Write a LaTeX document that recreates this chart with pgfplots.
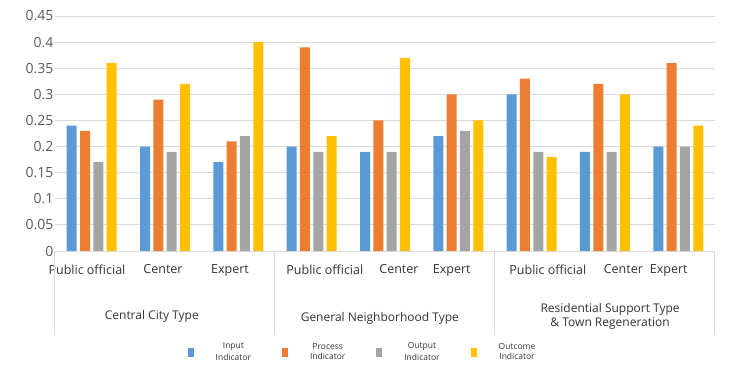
\documentclass[border=0pt]{standalone}
\usepackage{pgfplots}
\pgfplotsset{compat=1.18}
\usepackage{fontspec}
\setmainfont{Open Sans}
\definecolor{cblue}{HTML}{5B9BD5}
\definecolor{corange}{HTML}{ED7D31}
\definecolor{cgray}{HTML}{A5A5A5}
\definecolor{cyellow}{HTML}{FFC000}
\definecolor{gridgray}{HTML}{D9D9D9}
\definecolor{labgray}{HTML}{595959}
\definecolor{txt}{HTML}{333333}
\begin{document}
\begin{tikzpicture}[x=1pt,y=1pt]
\begin{axis}[at={(55pt,127pt)}, anchor=south west, scale only axis,
  width=660pt, height=235pt,
  xmin=-0.5, xmax=8.5, ymin=0, ymax=0.45,
  ybar=3.33pt, bar width=10pt,
  clip=false,
  axis line style={draw=none},
  major tick length=0pt,
  ytick={0,0.05,0.1,0.15,0.2,0.25,0.3,0.35,0.4,0.45},
  yticklabels={0,0.05,0.1,0.15,0.2,0.25,0.3,0.35,0.4,0.45},
  ymajorgrids, grid style={draw=gridgray, line width=1pt},
  y tick label style={font=\fontsize{14}{14}\selectfont, text=labgray, xshift=2pt},
  xtick={-0.064,0.973,1.886,3.18,4.19,4.91,6.22,7.25,7.87},
  xticklabels={Public official,Center,Expert,Public official,Center,Expert,Public official,Center,Expert},
  x tick label style={font=\fontsize{12.5}{13}\selectfont, text=txt, yshift=-10pt},
  legend style={at={(0.466,-0.43)}, anchor=center, draw=none, fill=none,
    legend columns=4, font=\fontsize{8.5}{9}\selectfont, text=txt,
    /tikz/every odd column/.style={column sep=20pt},
    /tikz/every even column/.style={column sep=29pt}},
  legend image code/.code={\fill[#1] (0pt,-4.5pt) rectangle (6pt,4.5pt);},
]
\addplot[fill=cblue, draw=none] coordinates {(0,0.24) (1,0.20) (2,0.17) (3,0.20) (4,0.19) (5,0.22) (6,0.30) (7,0.19) (8,0.20)};
\addlegendentry{\shortstack{Input\\Indicator}}
\addplot[fill=corange, draw=none] coordinates {(0,0.23) (1,0.29) (2,0.21) (3,0.39) (4,0.25) (5,0.30) (6,0.33) (7,0.32) (8,0.36)};
\addlegendentry{\shortstack{Process\\Indicator}}
\addplot[fill=cgray, draw=none] coordinates {(0,0.17) (1,0.19) (2,0.22) (3,0.19) (4,0.19) (5,0.23) (6,0.19) (7,0.19) (8,0.20)};
\addlegendentry{\shortstack{Output\\Indicator}}
\addplot[fill=cyellow, draw=none] coordinates {(0,0.36) (1,0.32) (2,0.40) (3,0.22) (4,0.37) (5,0.25) (6,0.18) (7,0.30) (8,0.24)};
\addlegendentry{\shortstack{Outcome\\Indicator}}
\draw[gridgray, line width=1pt] (axis cs:-0.5,0) -- (axis cs:8.5,0);
\pgfplotsinvokeforeach{-0.5,2.5,5.5,8.5}{\draw[gridgray, line width=1pt] (axis cs:#1,0) -- ++(0pt,-84pt);}
\node[font=\fontsize{12}{14}\selectfont, text=txt] at ([yshift=-65pt]axis cs:0.82,0) {Central City Type};
\node[font=\fontsize{12}{14}\selectfont, text=txt] at ([yshift=-67pt]axis cs:3.93,0) {General Neighborhood Type};
\node[font=\fontsize{12}{14}\selectfont, text=txt, align=center] at ([yshift=-65.5pt]axis cs:7.07,0) {Residential Support Type\\\& Town Regeneration};
\end{axis}
\pgfresetboundingbox
\useasboundingbox (0pt,0pt) rectangle (732pt,378pt);
\end{tikzpicture}
\end{document}
